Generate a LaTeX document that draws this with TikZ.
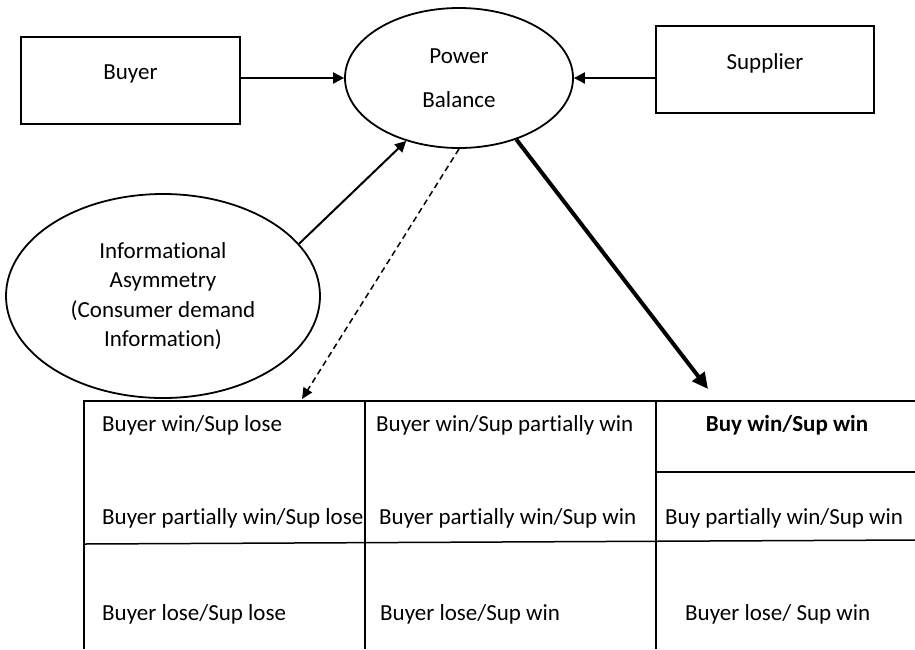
\documentclass[tikz,border=0pt]{standalone}
\usepackage{fontspec}
\setmainfont[Ligatures=NoCommon]{Carlito}
\usetikzlibrary{positioning,shapes.geometric,arrows.meta}

\tikzset{
  box/.style={draw,line width=1.5pt,minimum width=219pt,minimum height=87pt,inner sep=0pt,text depth=16pt},
  oval/.style={draw,ellipse,line width=1.8pt,inner sep=0pt,align=center},
  arr/.style={-{Triangle[length=11pt,width=11pt]},line width=2pt},
  cell/.style={anchor=west,inner sep=0pt},
}

\begin{document}
\begin{tikzpicture}[x=1pt,y=-1pt,font=\fontsize{23}{27}\selectfont]
      \useasboundingbox (0,0) rectangle (915,649);
      \node[box](buyer) at (130.5,80.5) {Buyer};
      \node[box,minimum width=218pt](supplier) at (765,69.5) {Supplier};
      \node[oval,minimum width=228pt,minimum height=140pt](power) at (459,78) {Power\\[17pt]Balance};
      \node[oval,minimum width=314pt,minimum height=204pt,font=\fontsize{23}{29.5}\selectfont](info) at (163,296)
            {Informational\\Asymmetry\\(Consumer demand\\Information)};
      \draw[arr](buyer.east|-power)--(power.west);%buyer
      \draw[arr](supplier.west|-power)--(power.east);%supplier
      \draw[arr](info.21)--(power.230);
      % table
      \coordinate (dashend) at (302,399);
      \coordinate (thickend) at (708,389);
      \draw[line width=1.5pt,dash pattern=on 6pt off 4pt,-{Triangle[length=11pt,width=10pt]}](power.south)--(dashend);
      \draw[line width=4pt,-{Triangle[length=16pt,width=15pt]}](power.-47)--(thickend);
      \draw[line width=1.5pt](84,649)--(84,401)--(915,401);
      \draw[line width=1.5pt](365,401)--(365,649);
      \draw[line width=1.5pt](656,401)--(656,649);
      \draw[line width=1.5pt](84,544)--(915,540);
      \draw[line width=1.5pt](656,472)--(915,472);
      \node[cell](c11) at (102,425) {Buyer win/Sup lose};
      \node[cell](c12) at (376,425) {Buyer win/Sup partially win};
      \node[inner sep=0pt](c13) at (787,425) {\bfseries Buy win/Sup win};
      \node[cell](c21) at (102,518) {Buyer partially win/Sup lose};
      \node[cell](c22) at (379,518) {Buyer partially win/Sup win};
      \node[cell](c23) at (665,518) {Buy partially win/Sup win};
      \node[cell](c31) at (102,614) {Buyer lose/Sup lose};
      \node[cell](c32) at (380,614) {Buyer lose/Sup win};
      \node[cell](c33) at (685,614) {Buyer lose/ Sup win};
    \end{tikzpicture}
\end{document}
